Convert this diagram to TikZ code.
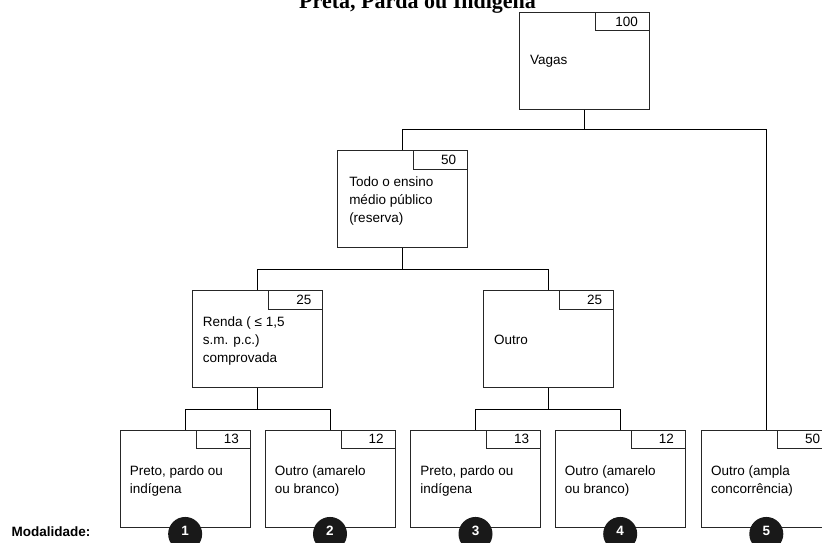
\documentclass[tikz,border=0pt]{standalone}
\usepackage{fontspec}
\setmainfont{Liberation Sans}
\newfontfamily\titlefont{Liberation Serif}
\usetikzlibrary{calc}

\begin{document}
\begin{tikzpicture}[x=1pt,y=-1pt,
 mainbox/.style={draw=black!85, line width=0.9pt, minimum width=130pt, minimum height=97pt, inner sep=0pt, fill=white},
 numbox/.style={draw=black!85, line width=0.9pt, minimum width=54pt, minimum height=18.5pt, inner sep=0pt, anchor=north east},
 numtext/.style={font=\fontsize{13.5}{16}\selectfont, inner sep=0pt, anchor=east},
 boxtext/.style={font=\fontsize{13.5}{18}\selectfont, inner sep=0pt, align=left, anchor=west},
 conn/.style={draw=black, line width=1pt},
 modcircle/.style={circle, fill=black!90, minimum size=34pt, inner sep=0pt},
 modnum/.style={text=white, inner sep=0pt, font=\bfseries\fontsize{13.5}{15}\selectfont}
]
\useasboundingbox (0,0) rectangle (822,542);

% title (cut at the top edge, as in the reference)
\node[font=\titlefont\bfseries\fontsize{22}{24}\selectfont, anchor=base west, inner sep=0pt] (title) at (299,8) {Preta, Parda ou Indígena};

% boxes
\node[mainbox] (v) at (584.25,60.65) {};
\node[mainbox] (t) at (402.5,199.15) {};
\node[mainbox] (r) at (257.7,339.15) {};
\node[mainbox] (o) at (548.3,339.15) {};
\node[mainbox] (b1) at (185.15,478.5) {};
\node[mainbox] (b2) at (330,478.5) {};
\node[mainbox] (b3) at (475.5,478.5) {};
\node[mainbox] (b4) at (620.2,478.5) {};
\node[mainbox] (b5) at (766.3,478.5) {};

% number boxes
\foreach \b/\n in {v/100,t/50,r/25,o/25,b1/13,b2/12,b3/13,b4/12,b5/50}{
  \node[numbox] (\b n) at (\b.north east) {};
  \node[numtext] (\b nt) at ($(\b n.east)+(-11.5,0)$) {\n};
}

% texts
\node[boxtext] (vt) at ($(v.west)+(11,1)$) {Vagas};
\node[boxtext] (tt) at ($(t.west)+(12,2)$) {Todo o ensino\\médio público\\(reserva)};
\node[boxtext] (rt) at ($(r.west)+(10.5,1.5)$) {Renda ( ≤ 1,5\\s.m. p.c.)\\comprovada};
\node[boxtext] (ot) at ($(o.west)+(11,1)$) {Outro};
\node[boxtext] (b1t) at ($(b1.west)+(10,2)$) {Preto, pardo ou\\indígena};
\node[boxtext] (b2t) at ($(b2.west)+(10,2)$) {Outro (amarelo\\ou branco)};
\node[boxtext] (b3t) at ($(b3.west)+(10,2)$) {Preto, pardo ou\\indígena};
\node[boxtext] (b4t) at ($(b4.west)+(10,2)$) {Outro (amarelo\\ou branco)};
\node[boxtext] (b5t) at ($(b5.west)+(10,2)$) {Outro (ampla\\concorrência)};

% connectors
\coordinate (vj) at ($(v.south)+(0,20.3)$);
\coordinate (tj) at ($(t.south)+(0,21.7)$);
\coordinate (rj) at ($(r.south)+(0,21.7)$);
\coordinate (oj) at ($(o.south)+(0,21.7)$);
\draw[conn] (v.south) -- (vj);
\draw[conn] (t.north) |- (vj) -| (b5.north);
\draw[conn] (t.south) -- (tj);
\draw[conn] (r.north) |- (tj) -| (o.north);
\draw[conn] (r.south) -- (rj);
\draw[conn] (b1.north) |- (rj) -| (b2.north);
\draw[conn] (o.south) -- (oj);
\draw[conn] (b3.north) |- (oj) -| (b4.north);

% modality circles
\foreach \b/\n in {b1/1,b2/2,b3/3,b4/4,b5/5}{
  \node[modcircle] (\b c) at ($(\b.south)+(0,6.5)$) {};
  \node[modnum] (\b cn) at ($(\b.south)+(0,3.5)$) {\n};
}

\node[font=\bfseries\fontsize{13.5}{16}\selectfont, anchor=base west, inner sep=0pt] (mod) at (11.5,536.7) {Modalidade:};
\end{tikzpicture}
\end{document}
